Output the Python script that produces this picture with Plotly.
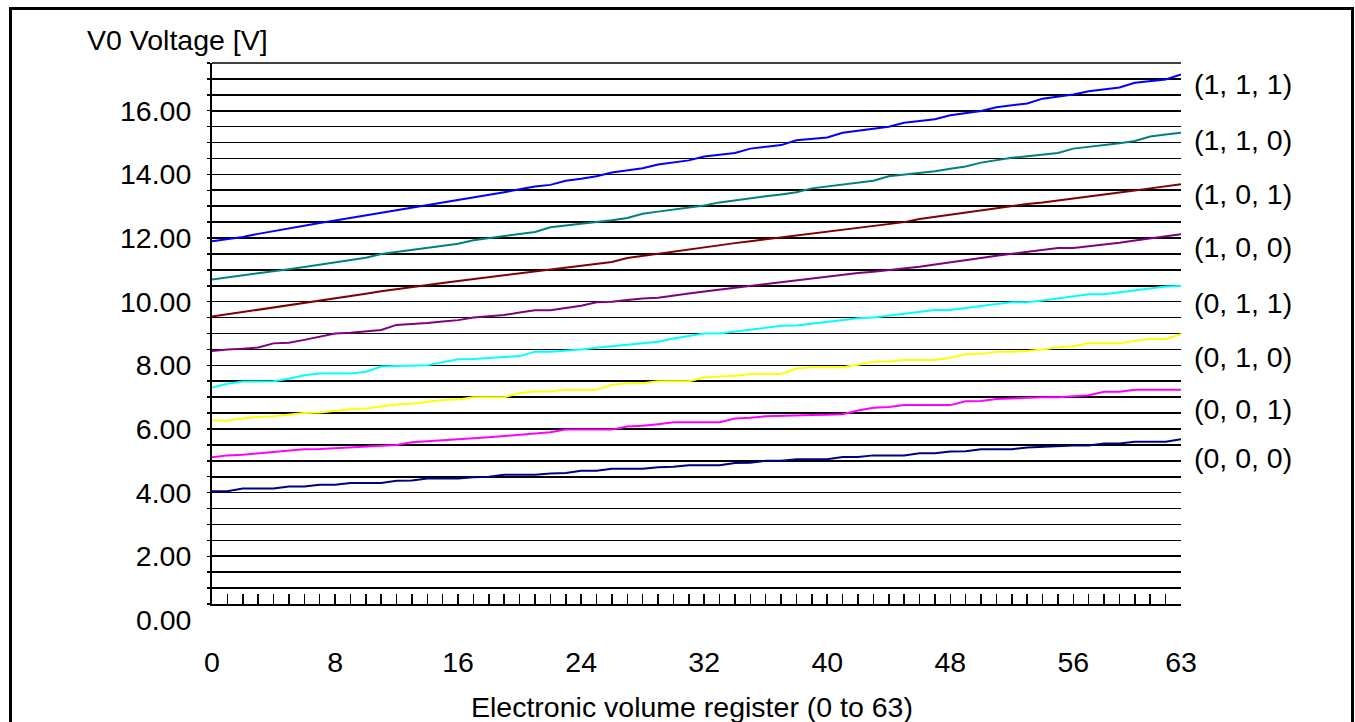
import plotly.graph_objects as go

# ---------------- data ----------------
register = list(range(64))

series_names = ["(1, 1, 1)", "(1, 1, 0)", "(1, 0, 1)", "(1, 0, 0)",
                "(0, 1, 1)", "(0, 1, 0)", "(0, 0, 1)", "(0, 0, 0)"]

v_111 = [11.90, 11.97, 12.03, 12.13, 12.22, 12.30, 12.40, 12.47, 12.55, 12.63,
         12.71, 12.79, 12.86, 12.94, 13.02, 13.10, 13.18, 13.26, 13.36, 13.44,
         13.53, 13.62, 13.67, 13.80, 13.86, 13.94, 14.06, 14.12, 14.19, 14.31,
         14.37, 14.44, 14.56, 14.61, 14.67, 14.81, 14.86, 14.92, 15.07, 15.11,
         15.16, 15.31, 15.37, 15.44, 15.50, 15.62, 15.67, 15.73, 15.86, 15.92,
         15.99, 16.11, 16.17, 16.23, 16.38, 16.44, 16.51, 16.61, 16.67, 16.73,
         16.88, 16.93, 16.98, 17.14]

v_110 = [10.70, 10.76, 10.82, 10.88, 10.94, 11.02, 11.09, 11.16, 11.23, 11.30,
         11.38, 11.50, 11.56, 11.63, 11.69, 11.76, 11.82, 11.93, 11.99, 12.05,
         12.12, 12.19, 12.34, 12.39, 12.44, 12.50, 12.56, 12.63, 12.76, 12.83,
         12.90, 12.96, 13.02, 13.12, 13.19, 13.26, 13.31, 13.37, 13.44, 13.56,
         13.62, 13.68, 13.74, 13.80, 13.94, 13.99, 14.03, 14.10, 14.18, 14.25,
         14.37, 14.45, 14.52, 14.57, 14.62, 14.67, 14.81, 14.86, 14.92, 14.98,
         15.05, 15.19, 15.25, 15.31]

v_101 = [9.53, 9.60, 9.67, 9.74, 9.81, 9.88, 9.95, 10.03, 10.10, 10.18,
         10.25, 10.33, 10.40, 10.47, 10.53, 10.59, 10.65, 10.71, 10.77, 10.83,
         10.89, 10.94, 11.00, 11.06, 11.13, 11.19, 11.25, 11.37, 11.44, 11.51,
         11.58, 11.65, 11.72, 11.78, 11.84, 11.90, 11.96, 12.02, 12.07, 12.12,
         12.18, 12.24, 12.30, 12.37, 12.44, 12.50, 12.60, 12.67, 12.74, 12.81,
         12.88, 12.95, 13.02, 13.07, 13.12, 13.18, 13.23, 13.30, 13.36, 13.42,
         13.49, 13.56, 13.62, 13.69]

v_100 = [8.45, 8.50, 8.52, 8.56, 8.69, 8.71, 8.80, 8.91, 9.00, 9.02,
         9.07, 9.11, 9.27, 9.29, 9.33, 9.38, 9.42, 9.50, 9.53, 9.58,
         9.66, 9.73, 9.73, 9.80, 9.87, 9.98, 10.00, 10.05, 10.10, 10.12,
         10.20, 10.26, 10.32, 10.38, 10.44, 10.49, 10.55, 10.61, 10.67, 10.72,
         10.78, 10.84, 10.90, 10.94, 10.99, 11.04, 11.10, 11.17, 11.23, 11.30,
         11.37, 11.44, 11.50, 11.55, 11.61, 11.69, 11.69, 11.74, 11.80, 11.85,
         11.92, 11.98, 12.05, 12.12]

v_011 = [7.30, 7.42, 7.49, 7.49, 7.50, 7.58, 7.69, 7.74, 7.74, 7.74,
         7.80, 7.96, 7.98, 7.99, 8.00, 8.10, 8.19, 8.20, 8.24, 8.26,
         8.29, 8.43, 8.43, 8.46, 8.50, 8.55, 8.60, 8.64, 8.71, 8.74,
         8.84, 8.93, 9.00, 9.00, 9.06, 9.12, 9.18, 9.24, 9.25, 9.31,
         9.37, 9.43, 9.48, 9.50, 9.56, 9.62, 9.68, 9.74, 9.74, 9.81,
         9.87, 9.93, 9.98, 9.98, 10.04, 10.10, 10.17, 10.23, 10.23, 10.29,
         10.34, 10.41, 10.48, 10.49]

v_010 = [6.27, 6.27, 6.33, 6.38, 6.40, 6.45, 6.50, 6.52, 6.58, 6.62,
         6.64, 6.70, 6.77, 6.79, 6.85, 6.91, 6.93, 7.00, 7.00, 7.00,
         7.13, 7.18, 7.18, 7.23, 7.23, 7.23, 7.39, 7.44, 7.44, 7.50,
         7.50, 7.50, 7.62, 7.64, 7.67, 7.73, 7.73, 7.73, 7.90, 7.94,
         7.94, 7.94, 8.02, 8.11, 8.12, 8.17, 8.17, 8.17, 8.24, 8.35,
         8.36, 8.43, 8.43, 8.45, 8.50, 8.57, 8.60, 8.69, 8.69, 8.69,
         8.77, 8.83, 8.83, 8.98]

v_001 = [5.11, 5.17, 5.19, 5.23, 5.26, 5.30, 5.36, 5.37, 5.40, 5.43,
         5.45, 5.48, 5.50, 5.58, 5.61, 5.64, 5.68, 5.69, 5.74, 5.78,
         5.82, 5.88, 5.90, 5.98, 5.98, 5.98, 5.98, 6.08, 6.10, 6.15,
         6.21, 6.21, 6.21, 6.21, 6.33, 6.35, 6.40, 6.42, 6.43, 6.44,
         6.45, 6.46, 6.58, 6.67, 6.69, 6.75, 6.75, 6.75, 6.75, 6.87,
         6.88, 6.94, 6.96, 7.00, 7.00, 7.00, 7.04, 7.06, 7.17, 7.17,
         7.23, 7.23, 7.23, 7.23]

v_000 = [4.04, 4.04, 4.13, 4.13, 4.13, 4.19, 4.19, 4.25, 4.25, 4.30,
         4.30, 4.30, 4.37, 4.38, 4.44, 4.44, 4.44, 4.48, 4.50, 4.56,
         4.56, 4.56, 4.60, 4.62, 4.69, 4.69, 4.75, 4.75, 4.75, 4.80,
         4.81, 4.86, 4.86, 4.86, 4.93, 4.94, 5.00, 5.00, 5.05, 5.05,
         5.05, 5.12, 5.12, 5.17, 5.17, 5.17, 5.24, 5.24, 5.29, 5.30,
         5.36, 5.36, 5.36, 5.42, 5.44, 5.48, 5.48, 5.48, 5.54, 5.54,
         5.60, 5.60, 5.60, 5.68]

x_tick_vals = [0, 8, 16, 24, 32, 40, 48, 56, 63]
y_label_vals = [0, 2, 4, 6, 8, 10, 12, 14, 16]

# ---------------- styling ----------------
colors = ["#0000FF", "#008080", "#800000", "#800080",
          "#00FFFF", "#FFFF00", "#FF00FF", "#000080"]
FONT = "Liberation Sans, Arial, sans-serif"
FS = 28.5

W, H = 1355, 722
L, R, T, B = 212, 174, 63, 118
PW, PH = W - L - R, H - T - B
Y_RANGE = [0.5, 17.5]


def px_x(px):
    return (px - L) / PW


def px_y(py):
    return (H - B - py) / PH


all_series = [v_111, v_110, v_101, v_100, v_011, v_010, v_001, v_000]

fig = go.Figure()
for name, vals, col in zip(series_names, all_series, colors):
    fig.add_trace(go.Scatter(x=register, y=vals, mode="lines", name=name,
                             line=dict(color=col, width=2), showlegend=False,
                             hoverinfo="skip"))

# y ticks every 0.5 V, labelled on even volts
y_ticks = [0.5 * k for k in range(1, 36)]
y_text = [f"{v:.2f}" if (v in y_label_vals and v > 0) else "" for v in y_ticks]

fig.update_layout(
    width=W, height=H,
    margin=dict(l=L, r=R, t=T, b=B, pad=0),
    paper_bgcolor="white", plot_bgcolor="white",
    font=dict(family=FONT, size=FS, color="black"),
    xaxis=dict(range=[0, 63], tickmode="array", tickvals=x_tick_vals,
               ticktext=[str(v) for v in x_tick_vals],
               ticks="inside", ticklen=10, tickwidth=1.5, tickcolor="black",
               minor=dict(tickmode="array", tickvals=register, ticks="inside",
                          ticklen=10, tickwidth=1.5, tickcolor="black"),
               showline=True, linecolor="black", linewidth=2,
               showgrid=False, zeroline=False, ticklabelstandoff=32,
               fixedrange=True),
    yaxis=dict(range=Y_RANGE, tickmode="array", tickvals=y_ticks,
               ticktext=y_text, ticks="outside", ticklen=3, tickwidth=1.5,
               tickcolor="black", showline=True, linecolor="black",
               linewidth=2, showgrid=True, gridcolor="black", gridwidth=1.6,
               zeroline=False, ticklabelstandoff=10, fixedrange=True),
)

annotations = []
# "0.00" label sits below the bottom of the axis range (paper coords)
zero_paper_y = (0 - Y_RANGE[0]) / (Y_RANGE[1] - Y_RANGE[0])
annotations.append(dict(x=0, xref="paper", y=zero_paper_y, yref="paper",
                        text="0.00", showarrow=False, xanchor="right",
                        yanchor="middle", xshift=-19, font=dict(size=FS)))
# axis titles
annotations.append(dict(x=px_x(85), xref="paper", y=px_y(40), yref="paper",
                        text="V0 Voltage [V]", showarrow=False,
                        xanchor="left", yanchor="middle", font=dict(size=FS)))
annotations.append(dict(x=px_x(692), xref="paper", y=px_y(707), yref="paper",
                        text="Electronic volume register (0 to 63)",
                        showarrow=False, xanchor="center", yanchor="middle",
                        font=dict(size=FS)))
# series labels at right
label_px_y = [84, 140, 194, 247, 303, 357, 409, 458]
for name, py in zip(series_names, label_px_y):
    annotations.append(dict(x=px_x(1192), xref="paper", y=px_y(py),
                            yref="paper", text=name, showarrow=False,
                            xanchor="left", yanchor="middle",
                            font=dict(size=FS)))
fig.update_layout(annotations=annotations)

# top gridline and outer frame
fig.add_shape(type="line", xref="paper", yref="paper", x0=0, x1=1, y0=1, y1=1,
              line=dict(color="black", width=1.6))
fig.add_shape(type="rect", xref="paper", yref="paper",
              x0=px_x(10.5), x1=px_x(1352.5), y0=px_y(740), y1=px_y(8.5),
              line=dict(color="black", width=3), fillcolor="rgba(0,0,0,0)",
              layer="above")

fig.write_html(
    "out.html",
    config={"displayModeBar": False, "staticPlot": True},
    post_script=("document.body.style.margin='0';"
                 "document.body.style.padding='0';"
                 "document.body.style.overflow='hidden';"),
)
